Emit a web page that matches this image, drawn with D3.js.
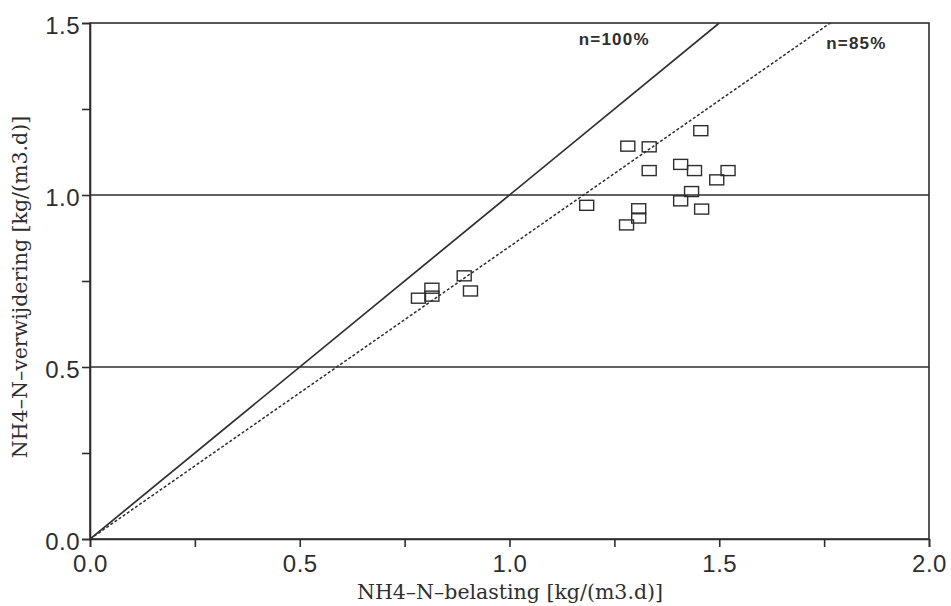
<!DOCTYPE html>
<html>
<head>
<meta charset="utf-8">
<script src="https://cdn.jsdelivr.net/npm/d3@7"></script>
<style>
  body { margin: 0; background: #fff; }
  svg { display: block; }
</style>
</head>
<body>
<svg id="chart" width="951" height="606"></svg>
<script>
// NH4-N loading (x) vs removal (y), kg/(m3.d)
const loading = [1.456, 1.282, 1.333, 1.333, 1.408, 1.441, 1.521, 1.494, 1.434, 1.408,
                 1.458, 1.184, 1.308, 1.308, 1.279, 0.892, 0.907, 0.815, 0.815, 0.783];
const removal = [1.187, 1.142, 1.140, 1.071, 1.089, 1.071, 1.071, 1.044, 1.010, 0.983,
                 0.959, 0.970, 0.960, 0.933, 0.913, 0.765, 0.721, 0.729, 0.706, 0.700];

// Efficiency reference lines y = eff * x
const efficiencies = [1.00, 0.85];
const effLabels = ["n=100%", "n=85%"];

const xTicks = [0, 0.25, 0.5, 0.75, 1.0, 1.25, 1.5, 1.75, 2.0];
const yTicks = [0, 0.25, 0.5, 0.75, 1.0, 1.25, 1.5];
const xTickLabels = ["0.0", "", "0.5", "", "1.0", "", "1.5", "", "2.0"];
const yTickLabels = ["0.0", "", "0.5", "", "1.0", "", "1.5"];
const gridValues = [0.5, 1.0];

const xTitle = "NH4–N–belasting [kg/(m3.d)]";
const yTitle = "NH4–N–verwijdering [kg/(m3.d)]";

const ink = "#2e2e2e";
const svg = d3.select("#chart");
const margin = { left: 90, right: 22, top: 23, bottom: 67 };
const W = 951, H = 606;

const x = d3.scaleLinear().domain([0, 2]).range([margin.left, W - margin.right]);
const y = d3.scaleLinear().domain([0, 1.5]).range([H - margin.bottom, margin.top]);

// plot frame
svg.append("rect")
  .attr("x", x(0)).attr("y", y(1.5))
  .attr("width", x(2) - x(0)).attr("height", y(0) - y(1.5))
  .attr("fill", "none").attr("stroke", ink).attr("stroke-width", 1.6);

// horizontal grid lines
svg.selectAll(".grid").data(gridValues).enter().append("line")
  .attr("x1", x(0)).attr("x2", x(2))
  .attr("y1", d => y(d)).attr("y2", d => y(d))
  .attr("stroke", ink).attr("stroke-width", 1.4);

// axes
const xAxis = d3.axisBottom(x).tickValues(xTicks)
  .tickFormat((d, i) => xTickLabels[i]).tickSize(8).tickPadding(8);
const yAxis = d3.axisLeft(y).tickValues(yTicks)
  .tickFormat((d, i) => yTickLabels[i]).tickSize(8).tickPadding(2);

const gx = svg.append("g").attr("transform", `translate(0,${y(0)})`).call(xAxis);
const gy = svg.append("g").attr("transform", `translate(${x(0)},0)`).call(yAxis);
[gx, gy].forEach(g => {
  g.select(".domain").attr("stroke", ink).attr("stroke-width", 1.6);
  g.selectAll(".tick line").attr("stroke", ink).attr("stroke-width", 1.6);
  g.selectAll(".tick text")
    .attr("fill", ink)
    .style("font-family", "'Liberation Sans', Arial, sans-serif")
    .style("font-size", "24px")
    .style("letter-spacing", "0.5px");
});
gx.selectAll(".tick text").attr("dy", "0.71em");
gy.selectAll(".tick text").attr("dy", "0.42em");

// efficiency lines, clipped to the plot area
svg.append("clipPath").attr("id", "plotClip").append("rect")
  .attr("x", x(0)).attr("y", y(1.5))
  .attr("width", x(2) - x(0)).attr("height", y(0) - y(1.5));

const lineG = svg.append("g").attr("clip-path", "url(#plotClip)");
efficiencies.forEach((e, i) => {
  const xEnd = Math.min(2, 1.5 / e);
  lineG.append("line")
    .attr("x1", x(0)).attr("y1", y(0))
    .attr("x2", x(xEnd)).attr("y2", y(xEnd * e))
    .attr("stroke", ink)
    .attr("stroke-width", i === 0 ? 1.7 : 1.5)
    .attr("stroke-dasharray", i === 0 ? null : "3,2");
});

// efficiency labels
const labelPos = [{ x: 1.165, y: 1.436 }, { x: 1.755, y: 1.424 }];
svg.selectAll(".efflabel").data(effLabels).enter().append("text")
  .attr("x", (d, i) => x(labelPos[i].x))
  .attr("y", (d, i) => y(labelPos[i].y))
  .attr("fill", ink)
  .style("font-family", "'Liberation Sans', Arial, sans-serif")
  .style("font-size", "17px")
  .style("font-weight", "bold")
  .style("letter-spacing", "1.2px")
  .text(d => d);

// data points as open squares
const pts = loading.map((v, i) => ({ x: v, y: removal[i] }));
svg.selectAll(".pt").data(pts).enter().append("rect")
  .attr("x", d => x(d.x) - 7).attr("y", d => y(d.y) - 5)
  .attr("width", 14).attr("height", 10)
  .attr("fill", "none").attr("stroke", ink).attr("stroke-width", 1.4);

// axis titles
const titleFont = "'DejaVu Serif', 'Liberation Serif', serif";
svg.append("text")
  .attr("x", 510).attr("y", 599)
  .attr("text-anchor", "middle")
  .attr("fill", ink)
  .style("font-family", titleFont)
  .style("font-size", "20.5px")
  .text(xTitle);

svg.append("text")
  .attr("transform", `translate(27,287) rotate(-90)`)
  .attr("text-anchor", "middle")
  .attr("fill", ink)
  .style("font-family", titleFont)
  .style("font-size", "20.5px")
  .text(yTitle);
</script>
</body>
</html>
